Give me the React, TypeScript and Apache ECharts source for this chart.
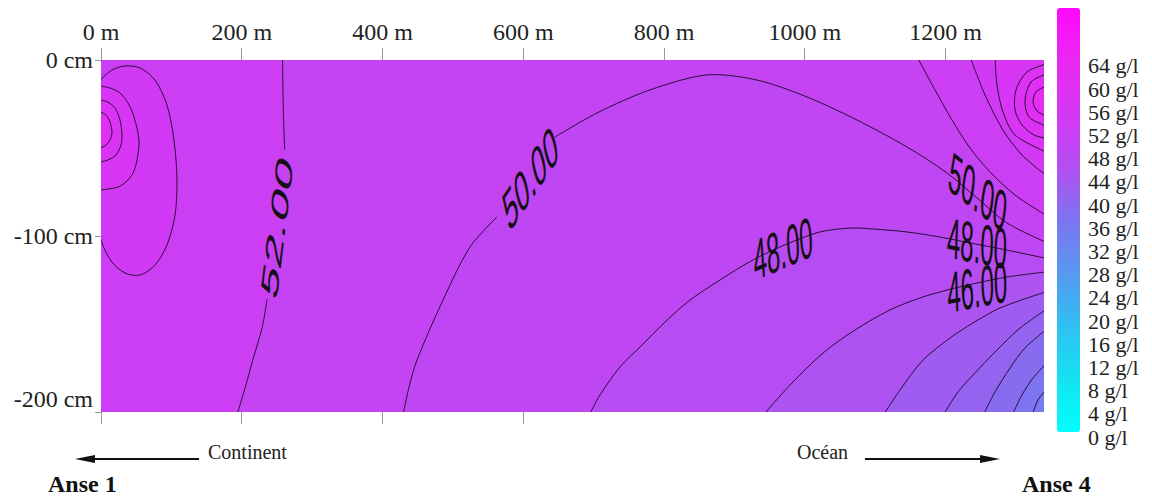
import React, { useEffect, useRef } from "react";
import * as echarts from "echarts";

type Pt = [number, number] | null;

// ---- axes ----
const X_MIN = 0;
const X_MAX = 1340;
const X_STEP = 200;
const Y_MIN = -200;
const Y_MAX = 0;
const Y_STEP = 100;
const bottomTickValues = [0, 200, 400, 600];
const SAL_MIN = 0;
const SAL_MAX = 74;
const SAL_STEP = 4;
const SAL_LABEL_MAX = 64;

// ---- contour lines (x in m, depth in cm); null = gap under a label ----
const c52West: Pt[] = [[258, 3], [259, -28], [261, -51], null, [236, -136], [229, -152], [216, -170], [205, -186], [193, -202]];
const c54West: Pt[] = [[-1, -11.4], [15.6, -5.7], [34.1, -3.4], [55.4, -4.5], [76.7, -11.4], [93.8, -25.6], [103.7, -45.5], [108, -68.2], [105.2, -88.1], [93.8, -105.1], [76.7, -116.5], [55.4, -122.2], [34.1, -121], [15.6, -114.8], [4.3, -106.8], [-1, -101]];
const c56West: Pt[] = [[-1, -14.8], [12.8, -15.9], [27, -18.8], [38.4, -24.4], [46.9, -32.4], [54, -45.5], [51.2, -56.8], [45.5, -64.2], [35.5, -69.3], [24.2, -72.2], [9.9, -73.3], [-1, -73.9]];
const c58West: Pt[] = [[-1, -22.7], [9.9, -23.9], [19.9, -27.3], [27, -34.1], [29.8, -42.6], [28.4, -48.3], [21.3, -54], [9.9, -56.8], [-1, -58]];
const c60West: Pt[] = [[-1, -29.5], [7.1, -31.3], [12.8, -35.2], [15.6, -41.5], [12.8, -45.5], [7.1, -48.3], [-1, -50]];

const c50: Pt[] = [[429, -202], [437.7, -185.8], [449, -170.5], [486, -136.4], [524.3, -106.3], [562.7, -89.2], null, [645.1, -43.8], [704.8, -30.1], [780.1, -17], [861.1, -8.5], [932.2, -11.4], [1003.2, -21], [1074.3, -34.1], [1145.3, -49.4], [1202.2, -64.2], [1244.8, -78.4], [1287.4, -92.6], [1343, -103.6]];
const c48: Pt[] = [[693.4, -202], [709.1, -190.3], [737.5, -174.4], [765.9, -163.1], [801.4, -148.9], [837, -136.4], [879.6, -125], [926.5, -113.6], [974.8, -104.5], [1021.7, -97.7], [1064.3, -95.5], [1097, -96], [1145.3, -97.7], [1192.2, -100.6], [1242, -104.5], [1287.4, -108], [1343, -112.7]];
const c46: Pt[] = [[940.7, -202], [979.1, -184.7], [1026, -166.5], [1071.4, -153.4], [1121.2, -142], [1163.8, -135.2], [1202.2, -130.7], [1244.8, -126.7], [1287.4, -123.3], [1343, -120.4]];
const c44: Pt[] = [[1111.2, -202], [1135.4, -187.5], [1168.1, -170.5], [1206.4, -158], [1239.1, -149.4], [1277.5, -140.9], [1343, -131.7]];
const c42: Pt[] = [[1196.5, -202], [1217.8, -188.6], [1242, -177.8], [1270.4, -165.9], [1305.9, -152.3], [1343, -141.8]];
const c40: Pt[] = [[1253.3, -202], [1270.4, -188.6], [1291.7, -175], [1313, -163.6], [1343, -153.2]];
const c38: Pt[] = [[1294.5, -202], [1308.7, -190.3], [1324.4, -180.7], [1343, -172.5]];
const c36: Pt[] = [[1323, -202], [1331.5, -193.2], [1343, -187.3]];

const c52East: Pt[] = [[1159.5, 2], [1185.1, -17], [1209.3, -34.1], [1234.8, -50], [1263.3, -63.6], [1298.8, -76.7], [1343, -88.3]];
const c54East: Pt[] = [[1234.8, 2], [1256.2, -19.9], [1281.7, -39.8], [1308.7, -54], [1343, -65.5]];
const c56East: Pt[] = [[1270.4, 2], [1273.2, -14.2], [1281.7, -29.5], [1298.8, -42.6], [1343, -52.3]];
const c58East: Pt[] = [[1343, -2.3], [1315.8, -6.8], [1300.2, -17], [1298.8, -28.4], [1308.7, -36.9], [1325.8, -42.6], [1343, -44.5]];
const c60East: Pt[] = [[1343, -8], [1321.5, -12.5], [1313, -22.7], [1318.7, -32.4], [1343, -37.5]];
const c62East: Pt[] = [[1343, -14.8], [1328.6, -18.2], [1324.4, -23.9], [1330.1, -29], [1343, -31.8]];

const contourLines: Pt[][] = [c52West, c54West, c56West, c58West, c60West, c50, c48, c46, c44, c42, c40, c38, c36, c52East, c54East, c56East, c58East, c60East, c62East];

// ---- filled bands: salinity level (g/l) + bounding contour ----
const bandLevels = [51, 53, 55, 57, 59, 61, 49, 47, 45, 43, 41, 39, 37, 35, 53, 55, 57, 59, 61, 63];
const bandLines: Pt[][] = [[], c52West, c54West, c56West, c58West, c60West, c50, c48, c46, c44, c42, c40, c38, c36, c52East, c54East, c56East, c58East, c60East, c62East];
const bandSides = ["all", "west", "leftEdge", "leftEdge", "leftEdge", "leftEdge", "bottomRight", "bottomRight", "bottomRight", "bottomRight", "bottomRight", "bottomRight", "bottomRight", "bottomRight", "topRight", "topRight", "topRight", "rightEdge", "rightEdge", "rightEdge"];

// ---- contour labels: text, x (m), depth (cm), angle ----
const contourLabels: [string, number, number, number][] = [
  ["52.00", 250, -95, 73.6],
  ["50.00", 610, -67, 32],
  ["48.00", 969, -107, 10],
  ["50.00", 1246, -75, -18],
  ["48.00", 1245, -104, -4.6],
  ["46.00", 1245, -129, 4.6],
];

const SERIF = '"Liberation Serif", "Times New Roman", serif';
const SANS = '"Liberation Sans", Arial, sans-serif';
const OUT = { l: -40, r: 1380, t: 20, b: -220 };

function ring(line: Pt[], side: string): number[][] {
  if (side === "all") return [[OUT.l, OUT.t], [OUT.r, OUT.t], [OUT.r, OUT.b], [OUT.l, OUT.b]];
  const pts = line.filter((p) => p) as [number, number][];
  const f = pts[0];
  const e = pts[pts.length - 1];
  switch (side) {
    case "west":
      return [[OUT.l, OUT.t], [f[0], OUT.t], ...pts, [e[0], OUT.b], [OUT.l, OUT.b]];
    case "leftEdge":
      return [[OUT.l, f[1]], ...pts, [OUT.l, e[1]]];
    case "rightEdge":
      return [[OUT.r, f[1]], ...pts, [OUT.r, e[1]]];
    case "bottomRight":
      return [[f[0], OUT.b], ...pts, [OUT.r, e[1]], [OUT.r, OUT.b]];
    case "topRight":
      return [[f[0], OUT.t], ...pts, [OUT.r, e[1]], [OUT.r, OUT.t]];
  }
  return pts;
}

export default function App() {
  const ref = useRef<HTMLDivElement>(null);
  useEffect(() => {
    document.body.style.margin = "0";
    const chart = echarts.init(ref.current!, undefined, { renderer: "svg" });

    const clipRect = (params: any) => ({
      type: "rect",
      shape: { x: params.coordSys.x, y: params.coordSys.y, width: params.coordSys.width, height: params.coordSys.height },
    });

    const fillRender = (params: any, api: any) => {
      const i = params.dataIndex;
      const side = bandSides[i];
      const pts = ring(bandLines[i], side).map((p) => api.coord(p));
      return {
        type: "group",
        clipPath: clipRect(params),
        children: [
          {
            type: "polygon",
            shape: { points: pts, smooth: side === "all" ? 0 : 0.3 },
            style: { fill: api.visual("color"), stroke: null },
          },
        ],
      };
    };

    const lineRender = (params: any, api: any) => {
      const line = contourLines[params.dataIndex];
      const segs: number[][][] = [];
      let cur: number[][] = [];
      for (const p of line) {
        if (!p) {
          if (cur.length) segs.push(cur);
          cur = [];
        } else cur.push(api.coord(p));
      }
      if (cur.length) segs.push(cur);
      return {
        type: "group",
        clipPath: clipRect(params),
        children: segs.map((s) => ({
          type: "polyline",
          shape: { points: s, smooth: 0.3 },
          style: { stroke: "#2a0d38", lineWidth: 1, fill: null },
        })),
      };
    };

    const labelRender = (params: any, api: any) => {
      const [text, x, y, ang] = contourLabels[params.dataIndex];
      const p = api.coord([x, y]);
      return {
        type: "group",
        x: p[0],
        y: p[1],
        scaleY: 2.4,
        children: [
          {
            type: "text",
            rotation: (ang * Math.PI) / 180,
            style: { text, fontSize: 24, fontFamily: SANS, fill: "#141014", align: "center", verticalAlign: "middle" },
          },
        ],
      };
    };

    chart.setOption({
      animation: false,
      grid: [
        { left: 101, top: 60, width: 943, height: 352 },
        { left: 1057, top: 8, width: 23, height: 429 },
      ],
      xAxis: [
        {
          type: "value",
          gridIndex: 0,
          position: "top",
          min: X_MIN,
          max: X_MAX,
          interval: X_STEP,
          axisLine: { show: false },
          axisTick: { show: true, length: 12, lineStyle: { color: "#999" } },
          splitLine: { show: false },
          axisLabel: {
            formatter: (v: number) => `${v} m`,
            showMaxLabel: false,
            margin: 16,
            fontSize: 24,
            fontFamily: SERIF,
            color: "#222",
          },
        },
        {
          type: "value",
          gridIndex: 0,
          position: "bottom",
          min: X_MIN,
          max: X_MAX,
          interval: X_STEP,
          axisLine: { show: false },
          axisTick: { show: true, length: 12, customValues: bottomTickValues, lineStyle: { color: "#999" } },
          splitLine: { show: false },
          axisLabel: { show: false },
        },
        { type: "value", gridIndex: 1, show: false, min: 0, max: 1 },
      ],
      yAxis: [
        {
          type: "value",
          gridIndex: 0,
          min: Y_MIN,
          max: Y_MAX,
          interval: Y_STEP,
          axisLine: { show: false },
          axisTick: { show: true, length: 6, lineStyle: { color: "#999" } },
          splitLine: { show: false },
          axisLabel: {
            margin: 8,
            formatter: (v: number) => (v === Y_MIN ? `{low|${v} cm}` : `{n|${v} cm}`),
            rich: {
              n: { fontSize: 24, fontFamily: SERIF, color: "#222" },
              low: { fontSize: 24, fontFamily: SERIF, color: "#222", padding: [0, 0, 26, 0] },
            },
          },
        },
        {
          type: "value",
          gridIndex: 1,
          position: "right",
          min: SAL_MIN,
          max: SAL_MAX,
          interval: SAL_STEP,
          axisLine: { show: false },
          axisTick: { show: false },
          splitLine: { show: false },
          axisLabel: {
            margin: 8,
            formatter: (v: number) => (v > SAL_LABEL_MAX ? "" : `${v} g/l`),
            fontSize: 22,
            fontFamily: SERIF,
            color: "#222",
          },
        },
      ],
      visualMap: {
        type: "continuous",
        seriesIndex: 0,
        dimension: 1,
        min: SAL_MIN,
        max: SAL_MAX,
        left: 1057,
        top: 8,
        padding: 0,
        itemWidth: 23,
        itemHeight: 424,
        calculable: false,
        hoverLink: false,
        inRange: {
          color: ["#00ffff", "#14e2f2", "#30c0f2", "#5898f0", "#7c74f0", "#b44ef2", "#d438f4", "#ea28f2", "#ff08ff"],
        },
      },
      series: [
        {
          type: "custom",
          xAxisIndex: 0,
          yAxisIndex: 0,
          renderItem: fillRender,
          data: bandLevels.map((lv, i) => [i, lv]),
          z: 1,
          silent: true,
        },
        {
          type: "custom",
          xAxisIndex: 0,
          yAxisIndex: 0,
          renderItem: lineRender,
          data: contourLines.map((_, i) => [i, 0]),
          z: 2,
          silent: true,
        },
        {
          type: "custom",
          xAxisIndex: 0,
          yAxisIndex: 0,
          renderItem: labelRender,
          data: contourLabels.map((l) => [l[1], l[2]]),
          z: 3,
          silent: true,
        },
      ],
      graphic: [
        { type: "line", shape: { x1: 199, y1: 459, x2: 90, y2: 459 }, style: { stroke: "#111", lineWidth: 2 } },
        { type: "polygon", shape: { points: [[75, 459], [95, 455], [95, 463]] }, style: { fill: "#111" } },
        { type: "line", shape: { x1: 865, y1: 459, x2: 985, y2: 459 }, style: { stroke: "#111", lineWidth: 2 } },
        { type: "polygon", shape: { points: [[1000, 459], [980, 455], [980, 463]] }, style: { fill: "#111" } },
        { type: "text", x: 208, y: 452, style: { text: "Continent", fontSize: 20, fontFamily: SERIF, fill: "#222", align: "left", verticalAlign: "middle" } },
        { type: "text", x: 797, y: 452, style: { text: "Océan", fontSize: 20, fontFamily: SERIF, fill: "#222", align: "left", verticalAlign: "middle" } },
        { type: "text", x: 48, y: 484, style: { text: "Anse 1", fontSize: 24, fontWeight: "bold", fontFamily: SERIF, fill: "#111", align: "left", verticalAlign: "middle" } },
        { type: "text", x: 1022, y: 484, style: { text: "Anse 4", fontSize: 24, fontWeight: "bold", fontFamily: SERIF, fill: "#111", align: "left", verticalAlign: "middle" } },
      ],
    });
    return () => chart.dispose();
  }, []);
  return <div ref={ref} style={{ width: 1152, height: 499 }} />;
}
